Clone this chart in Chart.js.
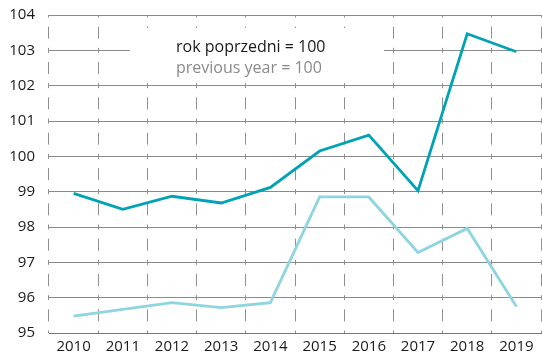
<!DOCTYPE html>
<html>
<head>
<meta charset="utf-8">
<script src="https://cdn.jsdelivr.net/npm/chart.js@4"></script>
<style>
  html, body { margin: 0; padding: 0; background: #fff; }
  #myChart { display: block; }
</style>
</head>
<body>
<canvas id="myChart" width="542" height="354"></canvas>
<script>
var years = ["2010", "2011", "2012", "2013", "2014", "2015", "2016", "2017", "2018", "2019"];
var darkSeries = [98.95, 98.5, 98.87, 98.68, 99.12, 100.15, 100.6, 99.03, 103.47, 102.96];
var lightSeries = [95.48, 95.67, 95.86, 95.72, 95.86, 98.85, 98.85, 97.28, 97.96, 95.75];
var yMin = 95, yMax = 104, yStep = 1;
var noteLines = ["rok poprzedni = 100", "previous year = 100"];

// white box with the two-line note, painted over the grid
var notePlugin = {
    id: 'note',
    beforeDatasetsDraw: function (chart) {
        var ctx = chart.ctx;
        var area = chart.chartArea;
        ctx.save();
        ctx.fillStyle = '#ffffff';
        ctx.fillRect(area.left + 81, area.top + 13, 254, 51);
        ctx.textBaseline = 'middle';
        ctx.textAlign = 'left';
        ctx.font = '16px "Open Sans"';
        ctx.fillStyle = '#1a1a1a';
        ctx.fillText(noteLines[0], area.left + 127, area.top + 32);
        ctx.fillStyle = '#8a8a8a';
        ctx.fillText(noteLines[1], area.left + 127, area.top + 53);
        ctx.restore();
    }
};

function renderChart() {
    var ctx = document.getElementById("myChart").getContext('2d');
    var unit = 318 / (yMax - yMin);
    var gap = unit / 2 - 8.5;
    var myChart = new Chart(ctx, {
        type: 'line',
        data: {
            labels: years,
            datasets: [{
                data: darkSeries,
                borderColor: '#00a3b4',
                borderWidth: 2.8,
                pointRadius: 0,
                tension: 0,
                fill: false
            }, {
                data: lightSeries,
                borderColor: '#8ed5df',
                borderWidth: 2.8,
                pointRadius: 0,
                tension: 0,
                fill: false
            }]
        },
        options: {
            responsive: false,
            animation: false,
            layout: { padding: { top: 15, right: 1, left: 0, bottom: 0 } },
            plugins: { legend: { display: false }, tooltip: { enabled: false } },
            scales: {
                x: {
                    offset: true,
                    grid: { offset: true, color: '#8f8f8f', lineWidth: 1, drawTicks: false },
                    border: { display: true, color: '#777777', width: 1,
                              dash: [12, gap, 5, gap], dashOffset: 12 + gap + 2.5 },
                    ticks: { color: '#1a1a1a', font: { family: 'Open Sans', size: 15 }, padding: 5, maxRotation: 0 },
                    afterFit: function (scale) {
                        scale.height = 21;
                        scale.paddingLeft = 0;
                        scale.paddingRight = 0;
                    }
                },
                y: {
                    min: yMin,
                    max: yMax,
                    grid: { color: '#8a8a8a', lineWidth: 1, drawTicks: false },
                    border: { display: false },
                    ticks: { stepSize: yStep, color: '#1a1a1a', font: { family: 'Open Sans', size: 15 }, padding: 14 },
                    afterFit: function (scale) {
                        scale.width = 49;
                        scale.paddingTop = 0;
                        scale.paddingBottom = 0;
                    }
                }
            }
        },
        plugins: [notePlugin]
    });
}

renderChart();
</script>
</body>
</html>
